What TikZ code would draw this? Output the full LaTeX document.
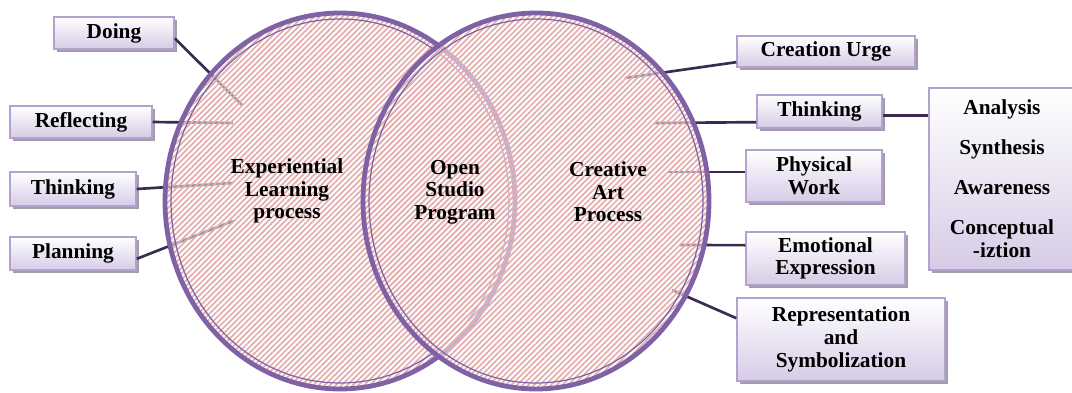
\documentclass[tikz,border=0pt]{standalone}
\usepackage{fontspec}
\setmainfont{Liberation Serif}
\usepackage{tikz}
\usetikzlibrary{positioning,shadows,patterns.meta}

\definecolor{ringpurple}{HTML}{7F62A5}
\definecolor{linkdark}{HTML}{3B2B52}
\definecolor{hatch}{HTML}{E4AEAE}
\definecolor{boxedge}{HTML}{B3A2CF}
\definecolor{boxlow}{HTML}{D6CBE6}
\definecolor{boxshade}{HTML}{A39DAB}

\begin{document}
\begin{tikzpicture}[x=0.75pt,y=-0.75pt,
  txt/.style={font=\fontsize{16}{17}\selectfont\bfseries, align=center},
  box/.style={txt, draw=boxedge, line width=1.1pt, inner sep=0pt,
    top color=white, bottom color=boxlow,
    drop shadow={shadow xshift=2.5pt, shadow yshift=-2.5pt, fill=boxshade, opacity=1}},
  link/.style={linkdark, line width=2pt},
  ring/.style={ringpurple, line width=3.6pt},
  thinring/.style={ringpurple, line width=0.9pt},
  haze/.style={fill=white, fill opacity=0.5},
  hatched/.style={pattern={Lines[angle=45, distance=3pt, line width=1.3pt]}, pattern color=hatch}]
\useasboundingbox (0,0) rectangle (1072,393);

\node[box, minimum width=90pt, minimum height=24pt] (doing) at (114,33) {Doing};
\node[box, minimum width=106.5pt, minimum height=24pt] (reflect) at (81,122) {Reflecting};
\node[box, minimum width=94.5pt, minimum height=25.5pt] (thinkL) at (73,189) {Thinking};
\node[box, minimum width=94.5pt, minimum height=24.75pt] (plan) at (73,253.5) {Planning};
\node[box, minimum width=133.5pt, minimum height=23.25pt] (urge) at (826,51.5) {Creation Urge};
\node[box, minimum width=93.75pt, minimum height=24.75pt] (thinkR) at (819.5,111.5) {Thinking};
\node[box, minimum width=102pt, minimum height=39pt] (phys) at (814,176) {Physical\\Work};
\node[box, minimum width=109.5pt, minimum height=136.5pt] (skills) at (1002,179)
  {Analysis\\[13pt]Synthesis\\[13pt]Awareness\\[13pt]Conceptual\\-iztion};
\node[box, minimum width=119.25pt, minimum height=39.75pt] (emo) at (825.5,258.5) {Emotional\\Expression};
\node[box, minimum width=156pt, minimum height=62.25pt] (repr) at (841,339.5) {Representation\\and\\Symbolization};

\coordinate (doingEnd) at (242,105);
\coordinate (reflectEnd) at (233,123);
\coordinate (thinkLEnd) at (233,183);
\coordinate (planEnd) at (233,221);
\coordinate (urgeEnd) at (625,78);
\coordinate (thinkREnd) at (655,123);
\coordinate (physEnd) at (668,172);
\coordinate (emoEnd) at (680,245);
\coordinate (reprEnd) at (672,290);

\draw[link] ([yshift=-4pt]doing.east) -- (doingEnd);
\draw[link] (reflect.east) -- (reflectEnd);
\draw[link] (thinkL.east) -- (thinkLEnd);
\draw[link] ([yshift=-4pt]plan.east) -- (planEnd);
\draw[link] ([yshift=-8pt]urge.west) -- (urgeEnd);
\draw[link] ([yshift=-8pt]thinkR.west) -- (thinkREnd);
\draw[link] ([yshift=3pt]phys.west) -- (physEnd);
\draw[link] ([yshift=10pt]emo.west) -- (emoEnd);
\draw[link] ([yshift=16pt]repr.west) -- (reprEnd);
\draw[link] ([yshift=-3pt]thinkR.east) -- ([yshift=-3pt]thinkR.east -| skills.west);

\fill[haze] (340,201) ellipse [x radius=175, y radius=188];
\fill[hatched] (340,201) ellipse [x radius=175, y radius=188];
\draw[ring] (340,201) ellipse [x radius=175, y radius=188];
\draw[thinring] (340,201) ellipse [x radius=169, y radius=182];

\fill[haze] (536,201) ellipse [x radius=173, y radius=188];
\fill[hatched] (536,201) ellipse [x radius=173, y radius=188];
\draw[ring] (536,201) ellipse [x radius=173, y radius=188];
\draw[thinring] (536,201) ellipse [x radius=167, y radius=182];

\node[txt] (exp) at (287,191) {Experiential\\Learning\\process};
\node[txt] (osp) at (455,192) {Open\\Studio\\Program};
\node[txt] (cap) at (608,192) {Creative\\Art\\Process};
\end{tikzpicture}
\end{document}
